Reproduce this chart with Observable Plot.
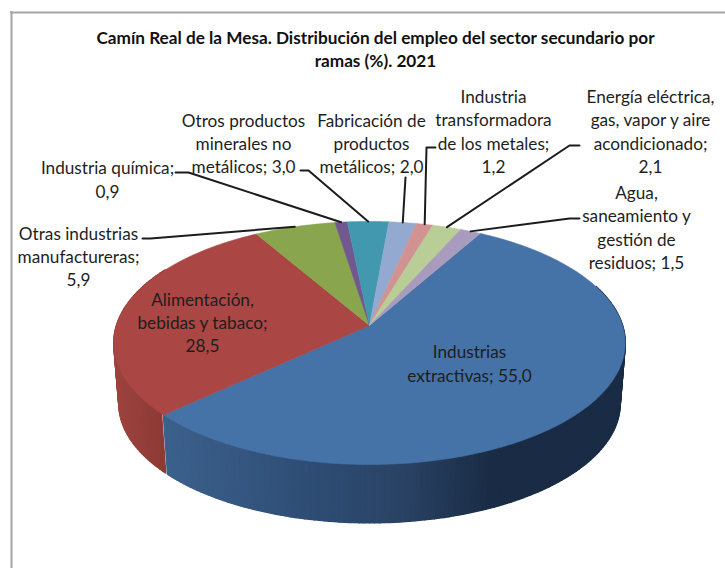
<!DOCTYPE html>
<html>
<head>
<meta charset="utf-8">
<style>html,body{margin:0;padding:0;background:#fff}svg{display:block}</style>
<script src="https://cdn.jsdelivr.net/npm/d3@7"></script>
<script src="https://cdn.jsdelivr.net/npm/@observablehq/plot@0.6"></script>
</head>
<body>
<div id="chart"></div>
<script>
const titleLines = "Camín Real de la Mesa. Distribución del empleo del sector secundario por\nramas (%). 2021";
const categories = ["Industrias\nextractivas","Alimentación,\nbebidas y tabaco","Otras industrias\nmanufactureras","Industria química","Otros productos\nminerales no\nmetálicos","Fabricación de\nproductos\nmetálicos","Industria\ntransformadora\nde los metales","Energía eléctrica,\ngas, vapor y aire\nacondicionado","Agua,\nsaneamiento y\ngestión de\nresiduos"];
const values = [55.0,28.5,5.9,0.9,3.0,2.0,1.2,2.1,1.5];
const valueBreak = [" ","\n","\n","\n"," "," ","\n","\n"," "];
const colors = ["#4572A7","#AA4643","#89A54E","#71588F","#4198AF","#93A9CF","#D19392","#B9CD96","#A99BBD"];

// Label placement, in page units of the x and y scales
const labelX = [469,202,78,107,243,371,493,650,636];
const labelY = [362,321,255,178,142,142,130,130,226];
const leaderStart = [null,null,[142,238],[175,172],[300,170],[405,177],[435,147],[579,145],[579,218]];
const leaderElbow = [null,null,[150,238],[188,172],[308,170],null,[426,147],[569,145],[569,218]];

// Pie geometry: a tilted disc seen in perspective
const startAngle = 29.5, apexX = 369, apexY = 325, radX = 253, radY = 119, persp = 0.144;
const baseScale = 0.98, baseDrop = 61;

const rad = d => d * Math.PI / 180;
function rim(t, k = 1, drop = 0) {
  const X = Math.sin(rad(t)), Y = -Math.cos(rad(t)), w = 1 - persp * Y;
  return [apexX + k * radX * X / w, apexY + drop + k * radY * Y / w];
}
const total = d3.sum(values);
let acc = startAngle;
const slices = values.map((v, i) => {
  const a0 = acc, a1 = acc + v / total * 360; acc = a1;
  return {i, a0, a1, mid: (a0 + a1) / 2};
});

// Top face
const face = [];
for (const s of slices) {
  face.push({id: s.i, c: colors[s.i], x: apexX, y: apexY});
  for (let t = s.a0; t < s.a1; t += 0.5) { const [x, y] = rim(t); face.push({id: s.i, c: colors[s.i], x, y}); }
  const [x, y] = rim(s.a1); face.push({id: s.i, c: colors[s.i], x, y});
  face.push({id: s.i, c: colors[s.i], x: apexX, y: apexY});
}

// Side wall, built as thin shaded strips
const blueShade = d3.scaleLinear().domain([160,300,400,490,630]).range(["#3c618c","#2f4e76","#2a4365","#1a2c45","#1a2c45"]);
const redShade = d3.scaleLinear().domain([105,165]).range(["#a0443f","#8b3a36"]);
const wall = [];
const wallFrom = 70, wallTo = 300, stepA = 1;
for (let t = wallFrom; t < wallTo; t += stepA) {
  const inBlue = t < slices[0].a1;
  const t2 = Math.min(t + stepA, inBlue ? slices[0].a1 : wallTo);
  const a = rim(t), b = rim(t2), c = rim(t2, baseScale, baseDrop), d = rim(t, baseScale, baseDrop);
  const col = inBlue ? blueShade((a[0] + b[0]) / 2) : redShade((a[0] + b[0]) / 2);
  [a, b, c, d, a].forEach(p => wall.push({id: t, c: col, x: p[0], y: p[1]}));
}

// Leader lines end on the rim at each slice's middle
const leaders = [];
slices.forEach(s => {
  if (!leaderStart[s.i]) return;
  const pts = [leaderStart[s.i]];
  if (leaderElbow[s.i]) pts.push(leaderElbow[s.i]);
  pts.push(rim(s.mid));
  pts.forEach(p => leaders.push({id: s.i, x: p[0], y: p[1]}));
});

const fmt = v => v.toFixed(1).replace(".", ",");
const labels = categories.map((c, i) => ({
  text: c + ";" + valueBreak[i] + fmt(values[i]), x: labelX[i], y: labelY[i]
}));

const poly = (data, sw) => Plot.line(data, {x: "x", y: "y", z: "id", fill: "c", stroke: "c", strokeWidth: sw, strokeLinejoin: "round", curve: "linear"});

const chart = Plot.plot({
  width: 725, height: 568, margin: 0,
  x: {domain: [0, 725], range: [0, 725], axis: null},
  y: {domain: [0, 568], range: [0, 568], axis: null},
  color: {type: "identity"},
  style: {background: "#fff", fontFamily: "Lato, sans-serif"},
  marks: [
    Plot.ruleX([11], {y1: 11, y2: 568, stroke: "#a6a6a6", strokeWidth: 2}),
    Plot.ruleY([12], {x1: 10, x2: 725, stroke: "#a6a6a6", strokeWidth: 2}),
    poly(wall, 1.6),
    poly(face, 0.6),
    Plot.line(leaders, {x: "x", y: "y", z: "id", stroke: "#1c1c1c", strokeWidth: 2, curve: "linear"}),
    Plot.text(labels, {x: "x", y: "y", text: "text", fontSize: 17.2, fill: "#1e1e1e", lineHeight: 1.36, textAnchor: "middle"}),
    Plot.text([titleLines], {x: [375], y: [47.5], text: d => d, fontSize: 17.2, fontWeight: "bold", fill: "#111", lineHeight: 1.35, textAnchor: "middle"})
  ]
});
document.getElementById("chart").appendChild(chart);
</script>
</body>
</html>
